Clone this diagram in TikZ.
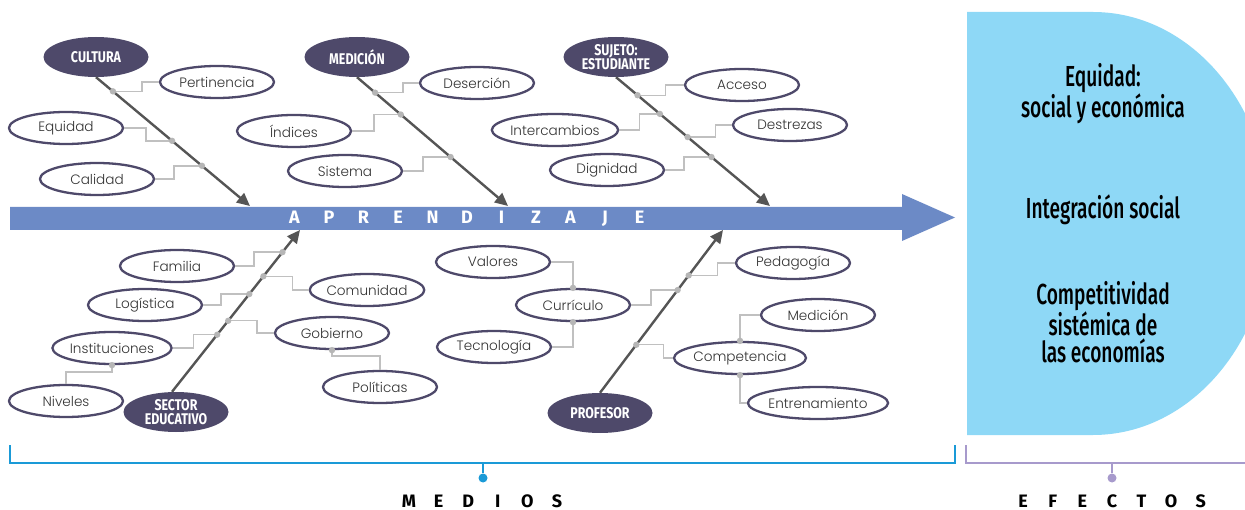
\documentclass[tikz,border=0pt]{standalone}
\usepackage{fontspec}
\usetikzlibrary{arrows.meta,calc,shapes.geometric}
\newfontfamily\lblfont{Poppins}[UprightFont=* Light]
\newfontfamily\headfont{Fira Sans}[FakeStretch=0.8]
\newfontfamily\effont{Fira Sans}[UprightFont=* Medium, FakeStretch=0.66]
\newfontfamily\capfont{Fira Sans}
\definecolor{mainblue}{RGB}{108,138,198}
\definecolor{panelblue}{RGB}{142,216,246}
\definecolor{headcol}{RGB}{78,73,106}
\definecolor{bonecol}{RGB}{85,85,85}
\definecolor{conncol}{RGB}{192,192,192}
\definecolor{dotcol}{RGB}{182,182,182}
\definecolor{medioscol}{RGB}{26,154,215}
\definecolor{efectoscol}{RGB}{167,154,204}
\newcommand\lbx[1]{\makebox[34.5pt]{#1}}
\newcommand\mbx[1]{\makebox[29.6pt]{#1}}
\tikzset{
  leaf/.style={ellipse, draw=headcol, line width=2.3pt, fill=white, minimum width=114pt, minimum height=32pt, inner sep=0pt, font=\lblfont\fontsize{13.6}{15}\selectfont, text=black!80},
  head/.style={ellipse, fill=headcol, minimum width=105pt, minimum height=40pt, inner sep=0pt, text=white, align=center, font=\headfont\bfseries\fontsize{15.5}{13.5}\selectfont},
  bone/.style={draw=bonecol, line width=2.4pt, -{Triangle[length=13pt,width=12pt]}},
  conn/.style={draw=conncol, line width=1.4pt},
  jdot/.style={fill=dotcol},
  efx/.style={align=center, font=\effont\fontsize{29}{27}\selectfont, text=black},
  spaced/.style={font=\capfont\bfseries\fontsize{18}{18}\selectfont}
}
\begin{document}
\begin{tikzpicture}[x=1pt,y=-1pt]
\useasboundingbox (0,0) rectangle (1245,510);
% right panel
\begin{scope}
\clip (0,0) rectangle (1245,510);
\fill[panelblue] (967,12) -- (1093,12) arc[start angle=-90,end angle=90,x radius=178,y radius=211.5] -- (967,435) -- cycle;
\end{scope}
% main arrow
\fill[mainblue] (10,207) -- (902,207) -- (902,194) -- (955,217.5) -- (902,241) -- (902,230) -- (10,230) -- cycle;
\node[spaced, text=white] (apr) at (467,218.5) {\lbx{A}\lbx{P}\lbx{R}\lbx{E}\lbx{N}\lbx{D}\lbx{I}\lbx{Z}\lbx{A}\lbx{J}\lbx{E}};

% ---------- heads
\node[head] (cult) at (96,57) {CULTURA};
\node[head] (medi) at (357,57) {MEDICIÓN};
\node[head] (suje) at (616,57) {SUJETO:\\ESTUDIANTE};
\node[head] (sect) at (176,412) {SECTOR\\EDUCATIVO};
\node[head] (prof) at (600,413) {PROFESOR};

% ---------- bone end coordinates
\coordinate (t1) at (250,206);
\coordinate (t2) at (508,206);
\coordinate (t3) at (770,206);
\coordinate (t4) at (300,230);
\coordinate (t5) at (723,230);

% ---------- leaves
\node[leaf] (pert) at (217,82) {Pertinencia};
\node[leaf] (equi) at (66,128) {Equidad};
\node[leaf] (cali) at (97,179) {Calidad};
\node[leaf] (dese) at (477,83) {Deserción};
\node[leaf] (indi) at (294,131) {Índices};
\node[leaf] (sist) at (345,171) {Sistema};
\node[leaf] (acce) at (742,85) {Acceso};
\node[leaf] (inte) at (555,130) {Intercambios};
\node[leaf] (dest) at (790,125) {Destrezas};
\node[leaf] (dign) at (607,170) {Dignidad};
\node[leaf] (fami) at (177,266) {Familia};
\node[leaf] (comu) at (367,290) {Comunidad};
\node[leaf] (logi) at (145,305) {Logística};
\node[leaf] (gobi) at (332,333) {Gobierno};
\node[leaf] (inst) at (112,348) {Instituciones};
\node[leaf] (nive) at (66,401) {Niveles};
\node[leaf] (poli) at (380,387) {Políticas};
\node[leaf] (valo) at (493,262) {Valores};
\node[leaf] (curr) at (573,305) {Currículo};
\node[leaf] (tecn) at (494,347) {Tecnología};
\node[leaf] (peda) at (793,263) {Pedagogía};
\node[leaf] (comp) at (740,358) {Competencia};
\node[leaf] (medc) at (818,315) {Medición};
\node[leaf] (entr) at (818,403) {Entrenamiento};

% ---------- junction coordinates on bones
\path (cult.south) -- (t1) coordinate[pos=0.11] (d11) coordinate[pos=0.494] (d12) coordinate[pos=0.688] (d13);
\path (medi.south) -- (t2) coordinate[pos=0.12] (d21) coordinate[pos=0.29] (d22) coordinate[pos=0.62] (d23);
\path (suje.south) -- (t3) coordinate[pos=0.14] (d31) coordinate[pos=0.285] (d32) coordinate[pos=0.465] (d33) coordinate[pos=0.62] (d34);
\path ($(sect.north)+(-4,0)$) -- (t4) coordinate[pos=0.863] (d41) coordinate[pos=0.714] (d42) coordinate[pos=0.604] (d43) coordinate[pos=0.439] (d44) coordinate[pos=0.353] (d45);
\path (prof.north) -- (t5) coordinate[pos=0.721] (d51) coordinate[pos=0.631] (d52) coordinate[pos=0.295] (d53);

% ---------- connectors
\draw[conn] (d11) -- ++(29,0) |- (pert.west);
\draw[conn] (equi.east) -- ++(22,0) |- (d12);
\draw[conn] (cali.east) -- ++(19,0) |- (d13);
\draw[conn] (d21) -- ++(28,0) |- (dese.west);
\draw[conn] (indi.east) -- ++(22,0) |- (d22);
\draw[conn] (sist.east) -- ++(20,0) |- (d23);
\draw[conn] (d31) -- ++(28,0) |- (acce.west);
\draw[conn] (inte.east) -- ++(20,0) |- (d32);
\draw[conn] (d33) -- ++(28,0) |- (dest.west);
\draw[conn] (dign.east) -- ++(19,0) |- (d34);
\draw[conn] (fami.east) -- ++(19,0) |- (d41);
\draw[conn] (d42) -- ++(29,0) |- (comu.west);
\draw[conn] (logi.east) -- ++(18,0) |- (d43);
\draw[conn] (d44) -- ++(29,0) |- (gobi.west);
\draw[conn] (inst.east) -- ++(21,0) |- (d45);
\draw[conn] (inst.south) -- ++(0,7) -| (nive.north);
\draw[conn] (gobi.south) -- ++(0,6) -| (poli.north);
\draw[conn] (d51) -- ++(29,0) |- (peda.west);
\draw[conn] (curr.east) -- ++(20,0) |- (d52);
\draw[conn] (valo.east) -| (curr.north);
\draw[conn] (curr.south) |- (tecn.east);
\draw[conn] (d53) -- ++(27,0) |- (comp.west);
\draw[conn] (comp.north) |- (medc.west);
\draw[conn] (comp.south) |- (entr.west);

% ---------- bones
\draw[bone] (cult.south) -- (t1);
\draw[bone] (medi.south) -- (t2);
\draw[bone] (suje.south) -- (t3);
\draw[bone] ($(sect.north)+(-4,0)$) -- (t4);
\draw[bone] (prof.north) -- (t5);

% ---------- dots
\foreach \d in {d11,d12,d13,d21,d22,d23,d31,d32,d33,d34,d41,d42,d43,d44,d45,d51,d52,d53}
  \fill[jdot] (\d) circle (3.2pt);
\foreach \n in {inst.south,gobi.south,curr.north,curr.south,comp.north,comp.south}
  \fill[jdot] (\n) circle (3.2pt);

% ---------- effects text
\node[efx] (ef1) at (1103,94) {Equidad:\\social y económica};
\node[efx] (ef2) at (1103,210) {Integración social};
\node[efx] (ef3) at (1103,322) {Competitividad\\sistémica de\\las economías};

% ---------- brackets
\coordinate (mL) at (10,445);
\coordinate (mR) at (955,445);
\coordinate (mS) at (483,463);
\node[circle, fill=medioscol, minimum size=9pt, inner sep=0pt] (mdot) at (483,478) {};
\draw[medioscol, line width=2pt] (mL) |- (mR |- mS) -- (mR);
\draw[medioscol, line width=2pt] (mS) -- (mdot);
\node[spaced, text=black] (medios) at (483,501) {\mbx{M}\mbx{E}\mbx{D}\mbx{I}\mbx{O}\mbx{S}};

\coordinate (eL) at (966,445);
\coordinate (eR) at (1245,463);
\coordinate (eS) at (1112,463);
\node[circle, fill=efectoscol, minimum size=9pt, inner sep=0pt] (edot) at (1112,478) {};
\draw[efectoscol, line width=2pt] (eL) |- (eR);
\draw[efectoscol, line width=2pt] (eS) -- (edot);
\node[spaced, text=black] (efectos) at (1112,501) {\mbx{E}\mbx{F}\mbx{E}\mbx{C}\mbx{T}\mbx{O}\mbx{S}};
\end{tikzpicture}
\end{document}
